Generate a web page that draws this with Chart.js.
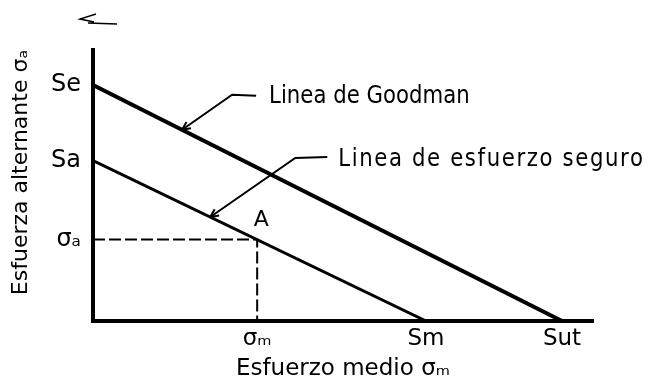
<!DOCTYPE html>
<html>
<head>
<meta charset="utf-8">
<script src="https://cdn.jsdelivr.net/npm/chart.js@4"></script>
<style>
  body { margin: 0; background: #fff; }
  canvas { display: block; }
</style>
</head>
<body>
<canvas id="goodman" width="649" height="385"></canvas>
<script>
// Diagrama de Goodman: resistencia a la fatiga vs esfuerzo medio
const Se = 100        // limite de fatiga (corte en eje vertical)
const Sut = 100       // resistencia ultima (corte en eje horizontal)
const Sa = 68         // linea de esfuerzo seguro, corte vertical
const Sm = 71         // linea de esfuerzo seguro, corte horizontal
const sigmaM = 35     // esfuerzo medio del punto A
const sigmaA = 34.5   // esfuerzo alternante del punto A

const xTicks = [sigmaM, Sm, Sut]
const xTickLabels = ['σₘ', 'Sm', 'Sut']
const yTicks = [sigmaA, Sa, Se]
const yTickLabels = ['σₐ', 'Sa', 'Se']

const goodmanX = [0, Sut]
const goodmanY = [Se, 0]
const safeX = [0, Sm]
const safeY = [Sa, 0]
const pointAX = [0, sigmaM, sigmaM]
const pointAY = [sigmaA, sigmaA, 0]

const fontFamily = '"DejaVu Sans", sans-serif'

function toPoints(xs, ys) {
  return xs.map((x, i) => ({ x: x, y: ys[i] }))
}

// notas con linea guia: "at" es la abscisa del punto sobre la linea
const notes = [
  { line: 'goodman', at: 19, text: 'Linea de Goodman', spacing: '0px', bend: [50, -35], end: [74, -34], label: [87, -33] },
  { line: 'safe', at: 25, text: 'Linea de esfuerzo seguro', spacing: '1.9px', bend: [85, -59], end: [117, -60], label: [128, -57] }
]

const notesPlugin = {
  id: 'notesPlugin',
  afterDatasetsDraw(chart) {
    const ctx = chart.ctx
    const x = chart.scales.x
    const y = chart.scales.y
    ctx.save()
    ctx.strokeStyle = '#000'
    ctx.fillStyle = '#000'
    ctx.lineWidth = 2
    ctx.textBaseline = 'middle'
    ctx.textAlign = 'left'

    notes.forEach(function(n) {
      var yVal = n.line === 'goodman' ? Se * (1 - n.at / Sut) : Sa * (1 - n.at / Sm)
      var px = x.getPixelForValue(n.at)
      var py = y.getPixelForValue(yVal)
      ctx.beginPath()
      ctx.moveTo(px, py)
      ctx.lineTo(px + n.bend[0], py + n.bend[1])
      ctx.lineTo(px + n.end[0], py + n.end[1])
      ctx.stroke()
      // punta de flecha
      var ang = Math.atan2(n.bend[1], n.bend[0])
      ctx.beginPath()
      ctx.moveTo(px, py)
      ctx.lineTo(px + 9 * Math.cos(ang - 0.45), py + 9 * Math.sin(ang - 0.45))
      ctx.moveTo(px, py)
      ctx.lineTo(px + 9 * Math.cos(ang + 0.45), py + 9 * Math.sin(ang + 0.45))
      ctx.stroke()
      // letra alta y angosta, como rotulado a plantilla
      ctx.save()
      ctx.translate(px + n.label[0], py + n.label[1])
      ctx.scale(0.85, 1)
      ctx.font = '25px ' + fontFamily
      ctx.letterSpacing = n.spacing
      ctx.fillText(n.text, 0, 0)
      ctx.restore()
    })

    // etiqueta del punto A
    ctx.textAlign = 'center'
    ctx.font = '22px ' + fontFamily
    ctx.fillText('A', x.getPixelForValue(sigmaM) + 4, y.getPixelForValue(sigmaA) - 19)

    // marca suelta arriba del eje
    ctx.lineWidth = 1.5
    ctx.beginPath()
    ctx.moveTo(96, 14)
    ctx.lineTo(80, 19)
    ctx.lineTo(94, 22)
    ctx.moveTo(88, 23)
    ctx.lineTo(117, 24)
    ctx.stroke()
    ctx.restore()
  }
}

new Chart(document.getElementById('goodman'), {
  type: 'scatter',
  data: {
    datasets: [{
      label: 'Linea de Goodman',
      data: toPoints(goodmanX, goodmanY),
      showLine: true,
      borderColor: '#000',
      borderWidth: 4,
      pointRadius: 0
    }, {
      label: 'Linea de esfuerzo seguro',
      data: toPoints(safeX, safeY),
      showLine: true,
      borderColor: '#000',
      borderWidth: 3,
      pointRadius: 0
    }, {
      label: 'A',
      data: toPoints(pointAX, pointAY),
      showLine: true,
      borderColor: '#000',
      borderWidth: 2,
      borderDash: [12, 4],
      pointRadius: 0
    }]
  },
  options: {
    responsive: false,
    animation: false,
    layout: { padding: { top: 50, right: 56, left: 0, bottom: 0 } },
    plugins: {
      legend: { display: false },
      tooltip: { enabled: false }
    },
    scales: {
      x: {
        type: 'linear',
        min: 0,
        max: 106.6,
        grid: { display: false, drawTicks: false },
        border: { display: true, color: '#000', width: 4 },
        afterBuildTicks: function(scale) {
          scale.ticks = xTicks.map(v => ({ value: v }))
        },
        afterFit: function(scale) { scale.height = 64 },
        ticks: {
          color: '#000',
          padding: 4,
          autoSkip: false,
          maxRotation: 0,
          font: { family: fontFamily, size: 23 },
          callback: function(value) {
            return xTickLabels[xTicks.indexOf(value)]
          }
        },
        title: {
          display: true,
          text: 'Esfuerzo medio σₘ',
          color: '#000',
          font: { family: fontFamily, size: 23 },
          padding: { top: 0, bottom: 2 }
        }
      },
      y: {
        type: 'linear',
        min: 0,
        max: 114.8,
        grid: { display: false, drawTicks: false },
        border: { display: true, color: '#000', width: 4 },
        afterBuildTicks: function(scale) {
          scale.ticks = yTicks.map(v => ({ value: v }))
        },
        afterFit: function(scale) { scale.width = 93 },
        ticks: {
          color: '#000',
          padding: 12,
          autoSkip: false,
          font: { family: fontFamily, size: 24 },
          callback: function(value) {
            return yTickLabels[yTicks.indexOf(value)]
          }
        },
        title: {
          display: true,
          text: 'Esfuerza alternante σₐ',
          align: 'end',
          color: '#000',
          font: { family: fontFamily, size: 22 },
          padding: { top: 8, bottom: 0 }
        }
      }
    }
  },
  plugins: [notesPlugin]
})
</script>
</body>
</html>
